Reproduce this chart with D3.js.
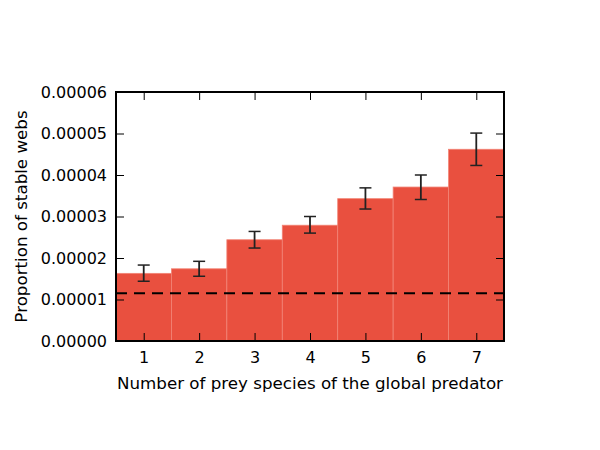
<!DOCTYPE html>
<html>
<head>
<meta charset="utf-8">
<script src="https://cdn.jsdelivr.net/npm/d3@7"></script>
<style>
  body { margin: 0; background: #fff; }
  text { font-family: "DejaVu Sans", sans-serif; }
</style>
</head>
<body>
<div id="chart"></div>
<script>
// data
var preyCounts = [1, 2, 3, 4, 5, 6, 7];
var proportions = [1.63e-5, 1.74e-5, 2.44e-5, 2.79e-5, 3.43e-5, 3.71e-5, 4.62e-5];
var errLow = [1.44e-5, 1.56e-5, 2.24e-5, 2.60e-5, 3.18e-5, 3.41e-5, 4.23e-5];
var errHigh = [1.83e-5, 1.92e-5, 2.64e-5, 3.00e-5, 3.69e-5, 4.00e-5, 5.01e-5];
var baseline = 1.15e-5;
var yTicks = [0, 0.00001, 0.00002, 0.00003, 0.00004, 0.00005, 0.00006];

var W = 600, H = 450;
var margin = { top: 92, right: 96, bottom: 109, left: 116 },
    width = W - margin.left - margin.right,
    height = H - margin.top - margin.bottom;

var svg = d3.select('#chart')
  .append('svg')
  .attr('width', W)
  .attr('height', H);

var g = svg.append('g')
  .attr('transform', 'translate(' + margin.left + ',' + margin.top + ')');

var x = d3.scaleLinear().domain([0.5, 7.5]).range([0, width]);
var y = d3.scaleLinear().domain([0, 0.00006]).range([height, 0]);

// bars
g.selectAll('rect.bar')
  .data(preyCounts)
  .enter()
  .append('rect')
  .attr('class', 'bar')
  .attr('x', d => x(d - 0.5))
  .attr('y', (d, i) => y(proportions[i]))
  .attr('width', d => x(d + 0.5) - x(d - 0.5))
  .attr('height', (d, i) => height - y(proportions[i]))
  .attr('fill', '#e9503f')
  .attr('stroke', '#f28476')
  .attr('stroke-width', 0.8);

// dashed reference line
g.append('line')
  .attr('x1', 0)
  .attr('x2', width)
  .attr('y1', y(baseline))
  .attr('y2', y(baseline))
  .attr('stroke', '#000')
  .attr('stroke-width', 2)
  .attr('stroke-dasharray', '11,7');

// error bars
var err = g.append('g').attr('class', 'errors');
preyCounts.forEach(function(d, i) {
  var cx = x(d);
  err.append('line')
    .attr('x1', cx).attr('x2', cx)
    .attr('y1', y(errLow[i])).attr('y2', y(errHigh[i]))
    .attr('stroke', '#222').attr('stroke-width', 1.8);
  [errLow[i], errHigh[i]].forEach(function(v) {
    err.append('line')
      .attr('x1', cx - 6).attr('x2', cx + 6)
      .attr('y1', y(v)).attr('y2', y(v))
      .attr('stroke', '#222').attr('stroke-width', 1.5);
  });
});

// axes, ticks drawn inward on all four sides
var fmt = d => d3.format('.5f')(d);

var xAxis = g.append('g')
  .attr('transform', 'translate(0,' + height + ')')
  .call(d3.axisBottom(x).tickValues(preyCounts).tickFormat(d3.format('d'))
    .tickSizeInner(-8).tickSizeOuter(0).tickPadding(11));
var xTop = g.append('g')
  .call(d3.axisTop(x).tickValues(preyCounts).tickSizeInner(-8).tickSizeOuter(0).tickFormat(''));
var yAxis = g.append('g')
  .call(d3.axisLeft(y).tickValues(yTicks).tickFormat(fmt).tickSizeInner(-8).tickSizeOuter(0).tickPadding(9));
var yRight = g.append('g')
  .attr('transform', 'translate(' + width + ',0)')
  .call(d3.axisRight(y).tickValues(yTicks).tickSizeInner(-8).tickSizeOuter(0).tickFormat(''));

[xAxis, xTop, yAxis, yRight].forEach(function(a) {
  a.select('.domain').remove();
  a.selectAll('.tick line').attr('stroke', '#000').attr('stroke-width', 1);
  a.selectAll('.tick text')
    .attr('font-family', 'DejaVu Sans, sans-serif')
    .attr('font-size', 16)
    .attr('fill', '#000');
});

// frame
g.append('rect')
  .attr('x', 0).attr('y', 0)
  .attr('width', width).attr('height', height)
  .attr('fill', 'none')
  .attr('stroke', '#000')
  .attr('stroke-width', 2);

// labels
svg.append('text')
  .attr('x', margin.left + width / 2)
  .attr('y', 389)
  .attr('text-anchor', 'middle')
  .attr('font-size', 16.7)
  .text('Number of prey species of the global predator');

svg.append('text')
  .attr('transform', 'translate(27,' + (margin.top + height / 2) + ') rotate(-90)')
  .attr('text-anchor', 'middle')
  .attr('font-size', 16.7)
  .text('Proportion of stable webs');
</script>
</body>
</html>
